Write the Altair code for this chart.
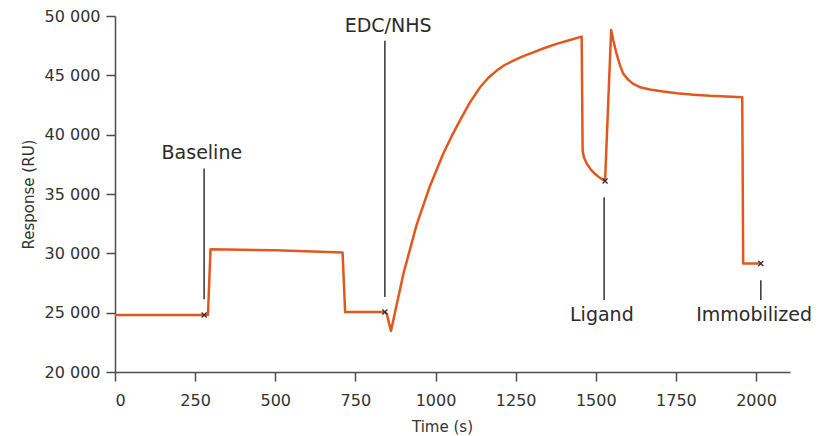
import altair as alt
import pandas as pd

# Sensorgram trace (time in s, response in RU)
time_s = [0, 278, 290, 298, 500, 710, 718, 842, 848, 861, 900, 941, 983, 1024,
          1050, 1076, 1107, 1139, 1165, 1191, 1216, 1243, 1274, 1305, 1340, 1378,
          1417, 1456, 1459, 1463, 1472, 1484, 1497, 1512, 1529, 1548, 1555, 1565,
          1576, 1586, 1602, 1617, 1638, 1669, 1710, 1753, 1805, 1857, 1957, 1960,
          2015]
response = [24800, 24800, 24800, 30350, 30250, 30080, 25050, 25050, 24900, 23450,
            28300, 32400, 35700, 38390, 39850, 41190, 42700, 44000, 44800, 45400,
            45870, 46240, 46620, 46940, 47300, 47650, 47960, 48260, 38670, 38100,
            37550, 37080, 36710, 36380, 36090, 48820, 47920, 46800, 45820, 45120,
            44620, 44280, 44000, 43800, 43630, 43490, 43370, 43270, 43150, 29140,
            29140]

# Marked points
mark_time = [278, 842, 1529, 2015]
mark_resp = [24800, 25050, 36090, 29140]

# Annotations: label, leader line (x, y top, y bottom), label anchor
ann_label = ["Baseline", "EDC/NHS", "Ligand", "Immobilized"]
ann_x = [278, 842, 1526, 2015]
ann_y1 = [37150, 47920, 34720, 27740]
ann_y2 = [26140, 26310, 26060, 26060]
ann_tx = [271, 852, 1519, 1994]
ann_ty = [37970, 48620, 24310, 24310]

x_ticks = [0, 250, 500, 750, 1000, 1250, 1500, 1750, 2000]
y_ticks = [20000, 25000, 30000, 35000, 40000, 45000, 50000]

trace = pd.DataFrame({"t": time_s, "r": response})
marks = pd.DataFrame({"t": mark_time, "r": mark_resp})
ann = pd.DataFrame({"label": ann_label, "x": ann_x, "y1": ann_y1, "y2": ann_y2,
                    "tx": ann_tx, "ty": ann_ty})

FONT = "DejaVu Sans"
xscale = alt.Scale(domain=[0, 2106], nice=False, zero=False)
yscale = alt.Scale(domain=[20000, 50000], nice=False, zero=False)

xaxis = alt.Axis(values=x_ticks, format="d", title="Time (s)", grid=False,
                 tickSize=9, labelPadding=11, labelFontSize=16, labelFont=FONT,
                 labelColor="#333333", titleFont=FONT, titleFontSize=15,
                 titleFontWeight="normal", titleColor="#333333",
                 titleX=327, titleY=59, titleBaseline="alphabetic",
                 domainColor="#4d4d4d", tickColor="#4d4d4d", domainWidth=1.5,
                 tickWidth=1.5)
yaxis = alt.Axis(values=y_ticks, title="Response (RU)", grid=False,
                 labelExpr="replace(format(datum.value, ','), ',', ' ')",
                 tickSize=9, labelPadding=6, labelFontSize=16, labelFont=FONT,
                 labelColor="#333333", titleFont=FONT, titleFontSize=15,
                 titleFontWeight="normal", titleColor="#333333",
                 titleX=-87, titleY=178, titleBaseline="middle", titleAngle=-90,
                 domainColor="#4d4d4d", tickColor="#4d4d4d", domainWidth=1.5,
                 tickWidth=1.5)

line = alt.Chart(trace).mark_line(
    color="#E2581C", strokeWidth=2.5, strokeJoin="round"
).encode(
    x=alt.X("t:Q", scale=xscale, axis=xaxis),
    y=alt.Y("r:Q", scale=yscale, axis=yaxis),
)

points = alt.Chart(marks).mark_point(
    shape="M-1,-1L1,1M-1,1L1,-1", size=25, stroke="#333333", strokeWidth=1.3,
    filled=False, opacity=1,
).encode(x=alt.X("t:Q", scale=xscale), y=alt.Y("r:Q", scale=yscale))

leaders = alt.Chart(ann).mark_rule(color="#333333", strokeWidth=1.5).encode(
    x=alt.X("x:Q", scale=xscale), y=alt.Y("y1:Q", scale=yscale), y2="y2:Q"
)

labels = alt.Chart(ann).mark_text(
    font=FONT, fontSize=19, color="#2b2b2b", align="center",
    baseline="alphabetic",
).encode(x=alt.X("tx:Q", scale=xscale), y=alt.Y("ty:Q", scale=yscale),
         text="label:N")

chart = alt.layer(leaders, line, points, labels).properties(
    width=675, height=356,
    autosize=alt.AutoSizeParams(type="none"),
    padding={"left": 107, "top": 8, "right": 24, "bottom": 63},
).configure_view(stroke=None)

chart.save("out.html", embed_options={"renderer": "svg", "actions": False})
